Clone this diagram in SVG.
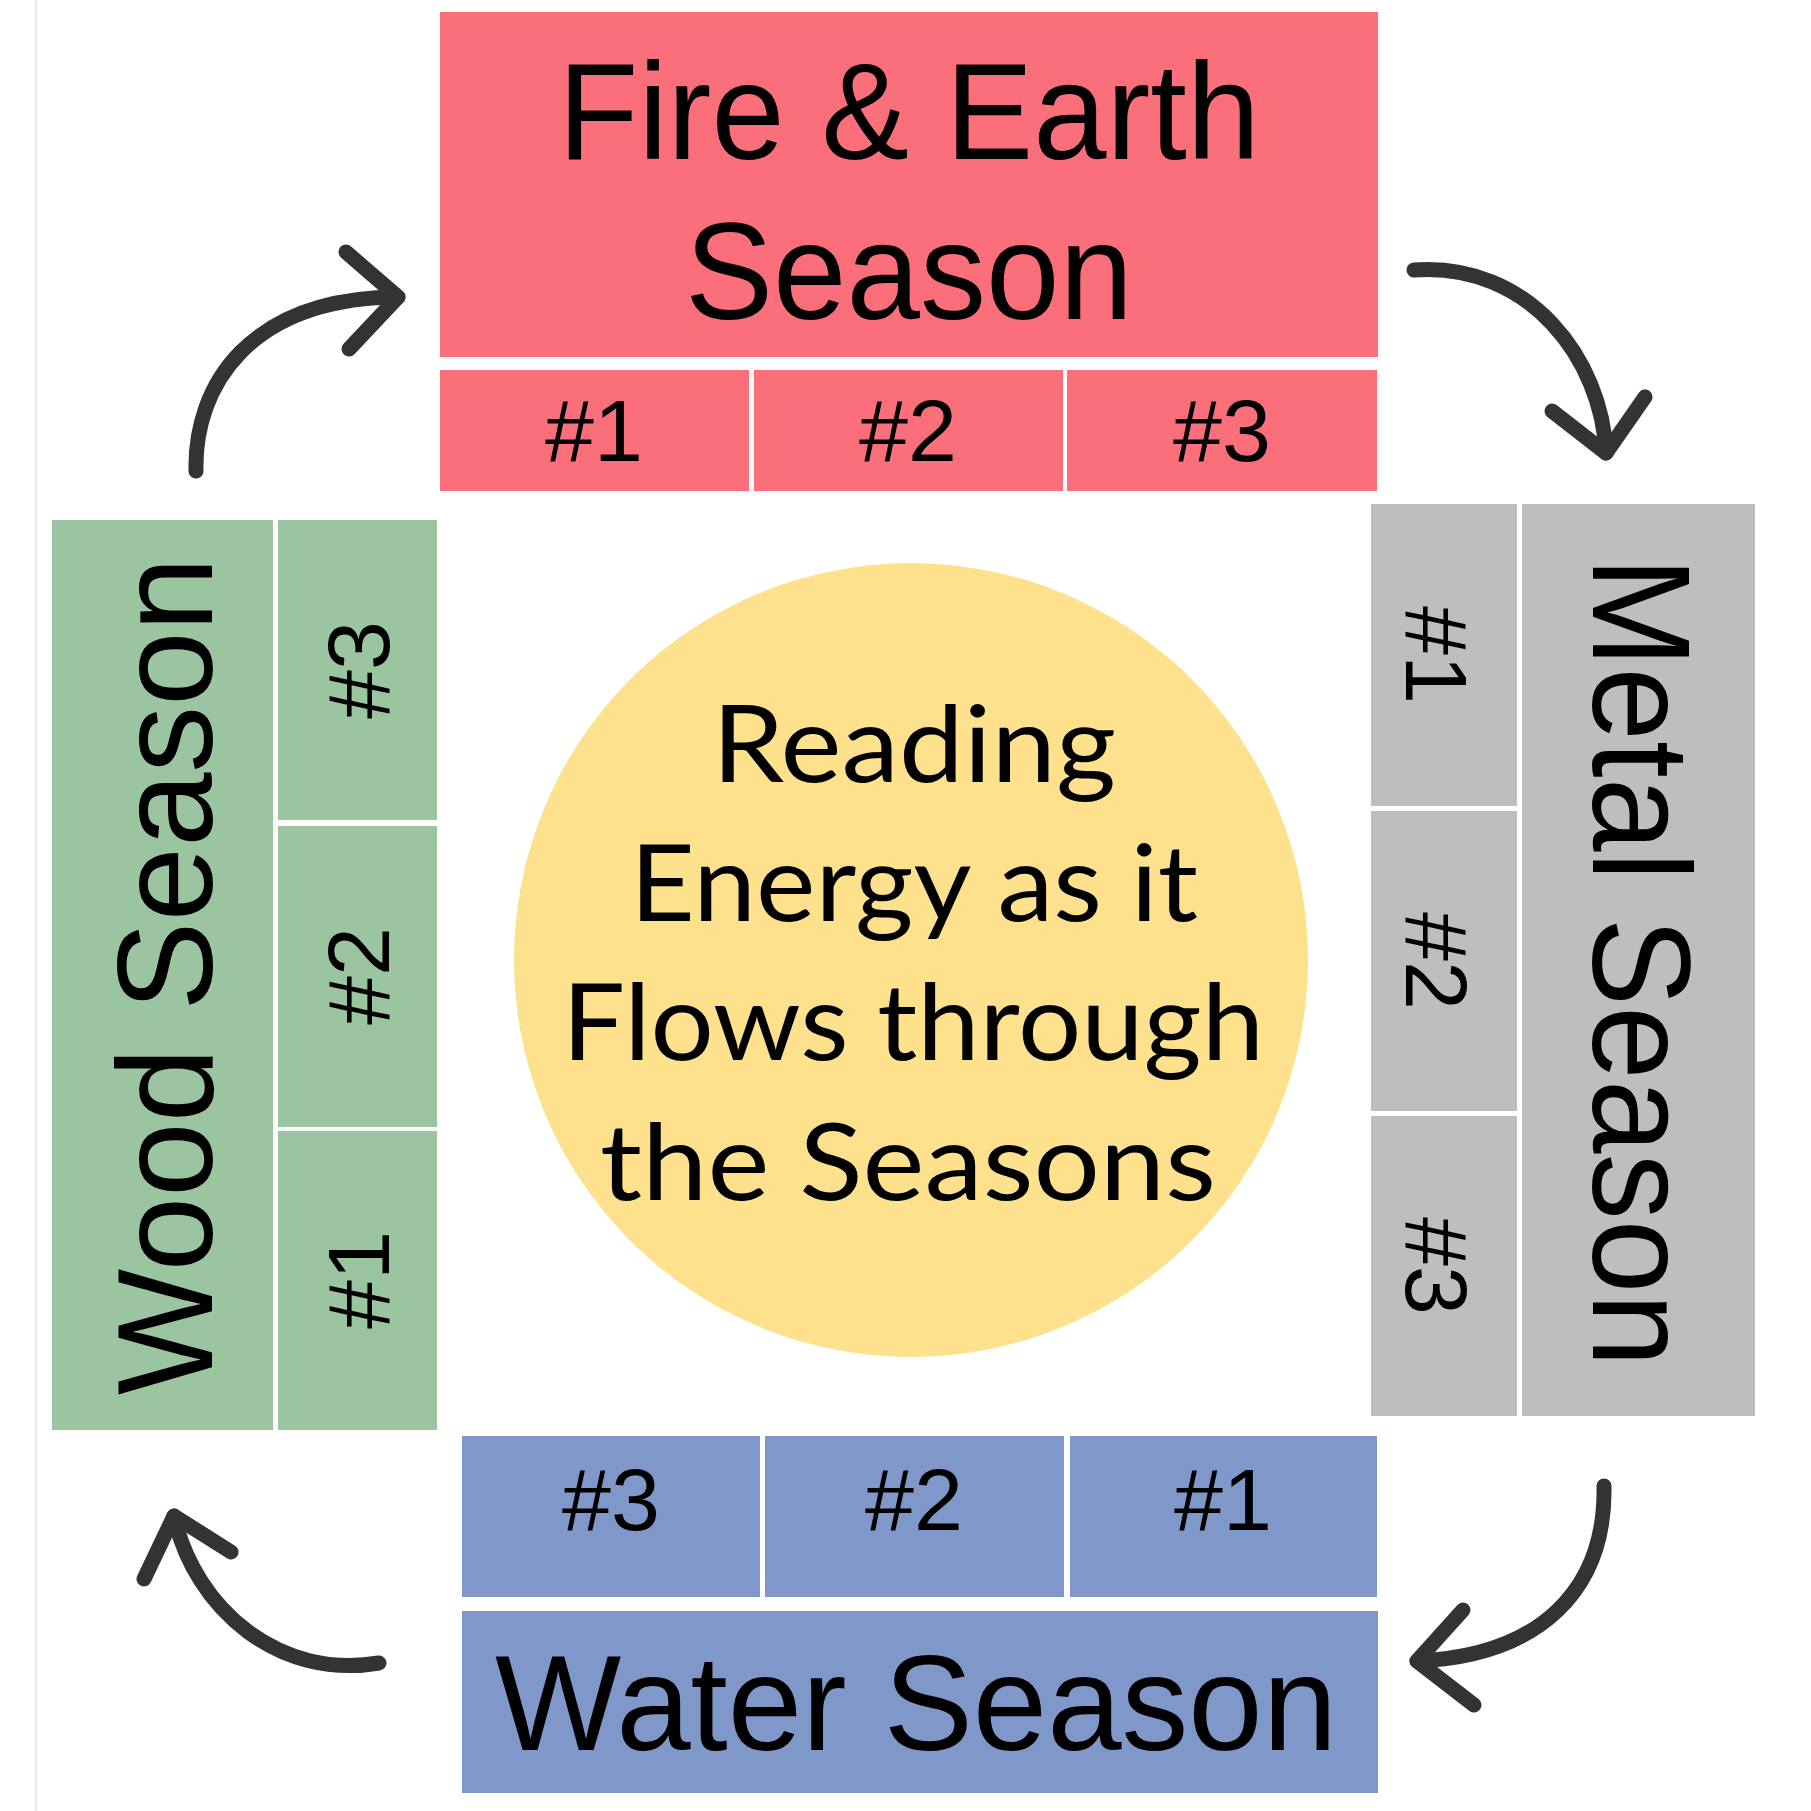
<svg xmlns="http://www.w3.org/2000/svg" width="1811" height="1811" viewBox="0 0 1811 1811">
<defs>
<style>
.fire{fill:#FB6F7B}
.wood{fill:#9BC5A0}
.metal{fill:#BEBEBE}
.water{fill:#7F98C9}
.big{font-family:"Liberation Sans",Arial,sans-serif;font-size:138px;fill:#000}
.num{font-family:"Liberation Sans",Arial,sans-serif;font-size:88px;fill:#000;text-anchor:middle}
.ctr{font-family:Lato,"Open Sans",sans-serif;font-size:107px;fill:#000;text-anchor:middle}
.arr{fill:none;stroke:#333333;stroke-width:15;stroke-linecap:round;stroke-linejoin:round}
</style>
</defs>
<rect x="0" y="0" width="1811" height="1811" fill="#FFFFFF"/>
<line x1="36" y1="0" x2="36" y2="1811" stroke="#EBEBEB" stroke-width="2"/>

<g id="fire-earth">
<rect class="fire" x="440" y="12" width="938" height="345"/>
<text class="big" x="909" y="159" text-anchor="middle" textLength="702" lengthAdjust="spacingAndGlyphs">Fire &amp; Earth</text>
<text class="big" x="909" y="319" text-anchor="middle" textLength="448" lengthAdjust="spacingAndGlyphs">Season</text>
</g>
<g id="fire-1"><rect class="fire" x="440" y="370" width="309" height="121"/><text class="num" x="594" y="461">#1</text></g>
<g id="fire-2"><rect class="fire" x="754" y="370" width="309" height="121"/><text class="num" x="908" y="461">#2</text></g>
<g id="fire-3"><rect class="fire" x="1067" y="370" width="310" height="121"/><text class="num" x="1222" y="461">#3</text></g>

<g id="wood">
<rect class="wood" x="52" y="520" width="221" height="910"/>
<text class="big" transform="translate(212,976) rotate(-90)" x="0" y="0" text-anchor="middle" style="font-size:135px" textLength="838" lengthAdjust="spacingAndGlyphs">Wood Season</text>
</g>
<g id="wood-3"><rect class="wood" x="278" y="520" width="159" height="300"/><text class="num" transform="translate(389,670) rotate(-90)">#3</text></g>
<g id="wood-2"><rect class="wood" x="278" y="826" width="159" height="301"/><text class="num" transform="translate(389,976) rotate(-90)">#2</text></g>
<g id="wood-1"><rect class="wood" x="278" y="1131" width="159" height="299"/><text class="num" transform="translate(389,1280) rotate(-90)">#1</text></g>

<g id="metal">
<rect class="metal" x="1522" y="504" width="233" height="912"/>
<text class="big" transform="translate(1593,962) rotate(90)" x="0" y="0" text-anchor="middle" style="font-size:140px" textLength="810" lengthAdjust="spacingAndGlyphs">Metal Season</text>
</g>
<g id="metal-1"><rect class="metal" x="1371" y="504" width="146" height="302"/><text class="num" transform="translate(1406,655) rotate(90)">#1</text></g>
<g id="metal-2"><rect class="metal" x="1371" y="811" width="146" height="300"/><text class="num" transform="translate(1406,961) rotate(90)">#2</text></g>
<g id="metal-3"><rect class="metal" x="1371" y="1116" width="146" height="300"/><text class="num" transform="translate(1406,1266) rotate(90)">#3</text></g>

<g id="water">
<rect class="water" x="462" y="1611" width="916" height="182"/>
<text class="big" x="916" y="1750" text-anchor="middle" style="font-size:135px" textLength="842" lengthAdjust="spacingAndGlyphs">Water Season</text>
</g>
<g id="water-3"><rect class="water" x="462" y="1436" width="298" height="161"/><text class="num" x="611" y="1530">#3</text></g>
<g id="water-2"><rect class="water" x="765" y="1436" width="299" height="161"/><text class="num" x="914" y="1530">#2</text></g>
<g id="water-1"><rect class="water" x="1070" y="1436" width="307" height="161"/><text class="num" x="1223" y="1530">#1</text></g>

<g id="center">
<circle cx="911" cy="960" r="397" fill="#FEE18D"/>
<text class="ctr" x="914" y="782" textLength="404" lengthAdjust="spacingAndGlyphs">Reading</text>
<text class="ctr" x="914" y="921" textLength="568" lengthAdjust="spacingAndGlyphs">Energy as it</text>
<text class="ctr" x="913" y="1060" textLength="702" lengthAdjust="spacingAndGlyphs">Flows through</text>
<text class="ctr" x="908" y="1200" textLength="616" lengthAdjust="spacingAndGlyphs">the Seasons</text>
</g>

<g id="connectors">
<path class="arr" d="M196,471 C194,385 250,298 398,297"/>
<path class="arr" d="M346,252 L398,297 L349,349"/>
<path class="arr" d="M1414,270 C1530,262 1602,360 1606,453"/>
<path class="arr" d="M1552,411 L1606,453 L1645,397"/>
<path class="arr" d="M1604,1486 C1606,1590 1540,1656 1417,1661"/>
<path class="arr" d="M1463,1610 L1417,1661 L1474,1705"/>
<path class="arr" d="M379,1663 C280,1680 195,1610 174,1516"/>
<path class="arr" d="M231,1552 L174,1516 L144,1579"/>
</g>
</svg>
